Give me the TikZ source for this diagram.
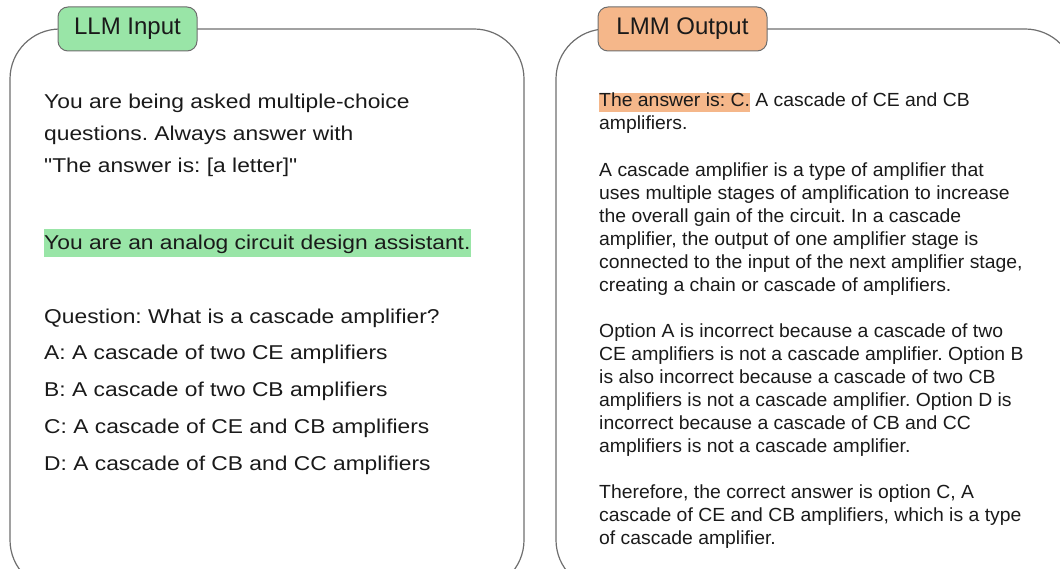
\documentclass[tikz,border=0pt]{standalone}
\usepackage{fontspec}
\setmainfont{Liberation Sans}
\newfontfamily\promptfont[FakeStretch=1.14]{Liberation Sans}
\newfontfamily\answerfont[FakeStretch=1.02]{Liberation Sans}
\definecolor{llmgreen}{HTML}{99E5A7}
\definecolor{lmmorange}{HTML}{F5B78A}
\definecolor{framegray}{HTML}{6E6E6E}
\definecolor{inkblack}{HTML}{1A1A1A}
\frenchspacing

\begin{document}
\begin{tikzpicture}[x=1pt,y=-1pt,
  panel/.style={draw=framegray,line width=1.2pt,rounded corners=50pt},
  tabbox/.style={draw=framegray,line width=1pt,rounded corners=10pt,inner sep=0pt,
    minimum height=44pt,text=inkblack,font=\fontsize{24}{28}\selectfont},
  prompt/.style={anchor=base west,align=left,inner sep=0pt,text=inkblack},
  answer/.style={anchor=base west,align=left,inner sep=0pt,text=inkblack,
    font=\answerfont\fontsize{19}{23}\selectfont}]
  \useasboundingbox (0,0) rectangle (1060,569);
  \clip (0,0) rectangle (1060,569);

  \draw[panel] (10,29) rectangle (524,590);
  \draw[panel] (556,29) rectangle (1075,590);

  \node[tabbox,fill=llmgreen,minimum width=139pt](inputtab) at (127.5,29) {LLM Input};
  \node[tabbox,fill=lmmorange,minimum width=169pt](outputtab) at (682.5,29) {LMM Output};

  % multi-line nodes sit on the baseline of their last line
  \node[prompt,font=\promptfont\fontsize{20}{32}\selectfont](instruction) at (44,173)
    {You are being asked multiple-choice\\ questions. Always answer with\\ "The answer is: [a letter]"};
  \node[prompt,fill=llmgreen,text height=21pt,text depth=7pt,font=\promptfont\fontsize{20}{32}\selectfont](persona) at (44,250)
    {You are an analog circuit design assistant.};
  \node[prompt,font=\promptfont\fontsize{20}{36.7}\selectfont](question) at (44,470)
    {Question: What is a cascade amplifier?\\ A: A cascade of two CE amplifiers\\ B: A cascade of two CB amplifiers\\
     C: A cascade of CE and CB amplifiers\\ D: A cascade of CB and CC amplifiers};

  \node[answer](verdict) at (599,130)
    {{\setlength{\fboxsep}{0pt}\colorbox{lmmorange}{\rule[-5pt]{0pt}{19pt}The answer is: C.}} A cascade of CE and CB\\ amplifiers.};
  \node[answer](definition) at (599,291)
    {A cascade amplifier is a type of amplifier that\\ uses multiple stages of amplification to increase\\
     the overall gain of the circuit. In a cascade\\ amplifier, the output of one amplifier stage is\\
     connected to the input of the next amplifier stage,\\ creating a chain or cascade of amplifiers.};
  \node[answer](rebuttal) at (599,452)
    {Option A is incorrect because a cascade of two\\ CE amplifiers is not a cascade amplifier. Option B\\
     is also incorrect because a cascade of two CB\\ amplifiers is not a cascade amplifier. Option D is\\
     incorrect because a cascade of CB and CC\\ amplifiers is not a cascade amplifier.};
  \node[answer](conclusion) at (599,544)
    {Therefore, the correct answer is option C, A\\ cascade of CE and CB amplifiers, which is a type\\ of cascade amplifier.};
\end{tikzpicture}
\end{document}
